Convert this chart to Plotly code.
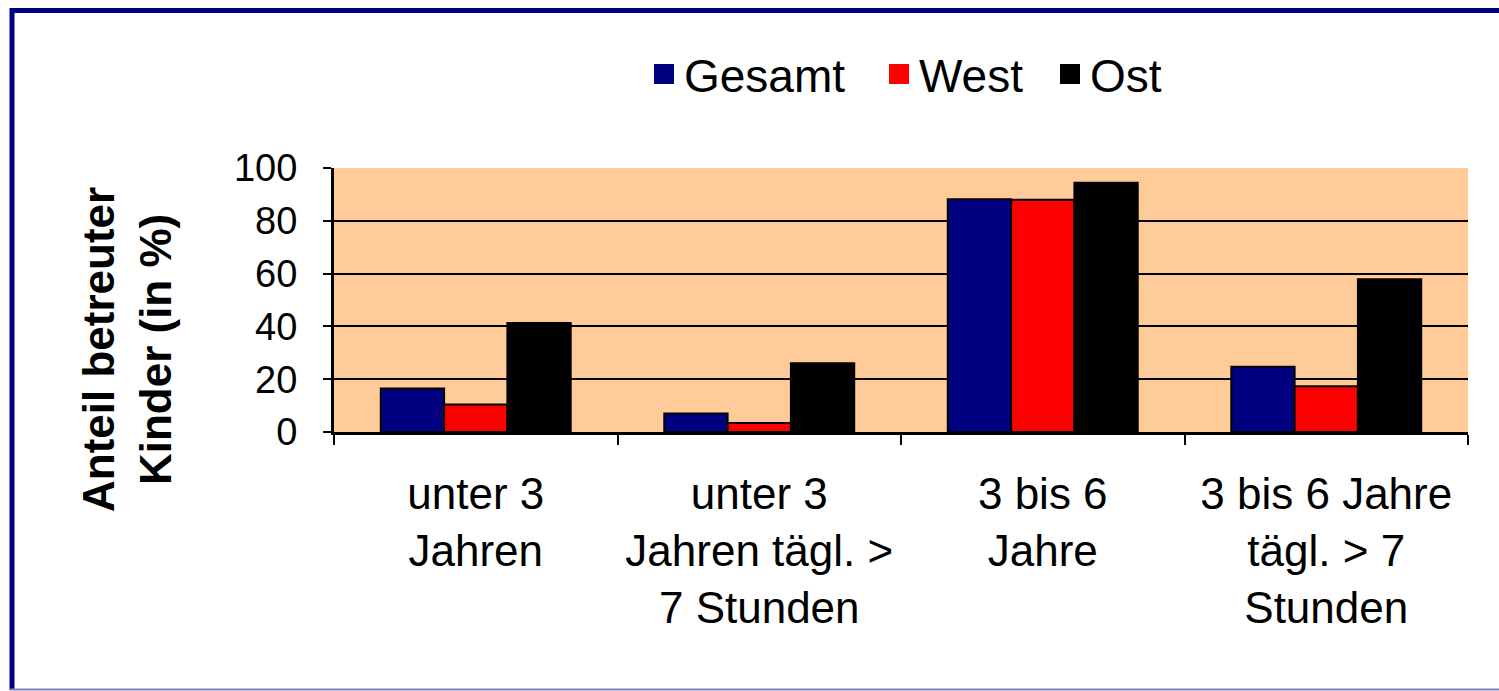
import plotly.graph_objects as go

categories = [
    "unter 3<br>Jahren",
    "unter 3<br>Jahren tägl. ><br>7 Stunden",
    "3 bis 6<br>Jahre",
    "3 bis 6 Jahre<br>tägl. > 7<br>Stunden",
]
series_names = ["Gesamt", "West", "Ost"]
gesamt = [16.5, 7.0, 88.2, 24.7]
west = [10.4, 3.4, 88.0, 17.3]
ost = [41.3, 26.0, 94.4, 57.9]
y_ticks = [0, 20, 40, 60, 80, 100]

colors = ["#000080", "#FF0000", "#000000"]
values = [gesamt, west, ost]
legend_ids = ["legend", "legend2", "legend3"]
legend_square_left = [654, 889, 1060]  # px position of legend squares

W, H = 1499, 691
L, R, T, B = 334, 1468, 168, 432  # plot area in px


def px(x):
    return (x - L) / (R - L)


def py(y):
    return (B - y) / (B - T)


fig = go.Figure()
for name, vals, col in zip(series_names, values, colors):
    fig.add_trace(go.Bar(
        x=categories, y=vals, name=name, showlegend=False,
        marker=dict(color=col, line=dict(color="black", width=2)),
    ))
# legend proxies (bigger square symbols)
for name, col, lid in zip(series_names, colors, legend_ids):
    fig.add_trace(go.Scatter(
        x=[None], y=[None], mode="markers", name=name, legend=lid,
        marker=dict(symbol="square", size=16, color=col,
                    line=dict(color=col, width=4)),
    ))

font = "Liberation Sans, Arial, sans-serif"

legend_layout = {}
for lid, sx in zip(legend_ids, legend_square_left):
    legend_layout[lid] = dict(
        orientation="h", x=px(sx - 10), y=py(74), xanchor="left", yanchor="middle",
        font=dict(size=46, family=font), itemsizing="trace",
        bgcolor="rgba(0,0,0,0)",
    )

fig.update_layout(
    width=W, height=H,
    margin=dict(l=L, r=W - R, t=T, b=H - B, autoexpand=False),
    paper_bgcolor="white",
    plot_bgcolor="#FFCC99",
    barmode="group", bargap=0.33, bargroupgap=0,
    font=dict(family=font, color="black"),
    xaxis=dict(
        type="category", showgrid=False, showline=True, linecolor="black", linewidth=3,
        ticks="outside", tickson="boundaries", ticklen=10, tickwidth=2, tickcolor="black",
        tickfont=dict(size=44, family=font), ticklabelstandoff=21,
        fixedrange=True,
    ),
    yaxis=dict(
        range=[0, 100], tickvals=y_ticks, showgrid=True, gridcolor="black", gridwidth=2,
        showline=True, linecolor="black", linewidth=3, zeroline=False,
        ticks="outside", ticklen=8, tickwidth=2, tickcolor="black",
        tickfont=dict(size=38, family=font), ticklabelstandoff=18,
        fixedrange=True,
    ),
    annotations=[dict(
        text="<b>Anteil betreuter<br>Kinder (in %)</b>", textangle=-90,
        xref="paper", yref="paper", x=px(127), y=py(350),
        xanchor="center", yanchor="middle", showarrow=False,
        font=dict(size=44, family=font, color="black"),
    )],
    shapes=[
        dict(type="line", xref="paper", yref="paper", x0=px(10), x1=px(1499),
             y0=py(10.5), y1=py(10.5), line=dict(color="#000080", width=5)),
        dict(type="line", xref="paper", yref="paper", x0=px(12), x1=px(12),
             y0=py(8), y1=py(690), line=dict(color="#000080", width=5)),
        dict(type="line", xref="paper", yref="paper", x0=px(10), x1=px(1499),
             y0=py(689.5), y1=py(689.5), line=dict(color="#8080C0", width=2)),
    ],
    **legend_layout,
)

fig.write_html(
    "out.html",
    config={"displayModeBar": False},
    post_script="document.body.style.margin='0';document.body.style.overflow='hidden';",
)
